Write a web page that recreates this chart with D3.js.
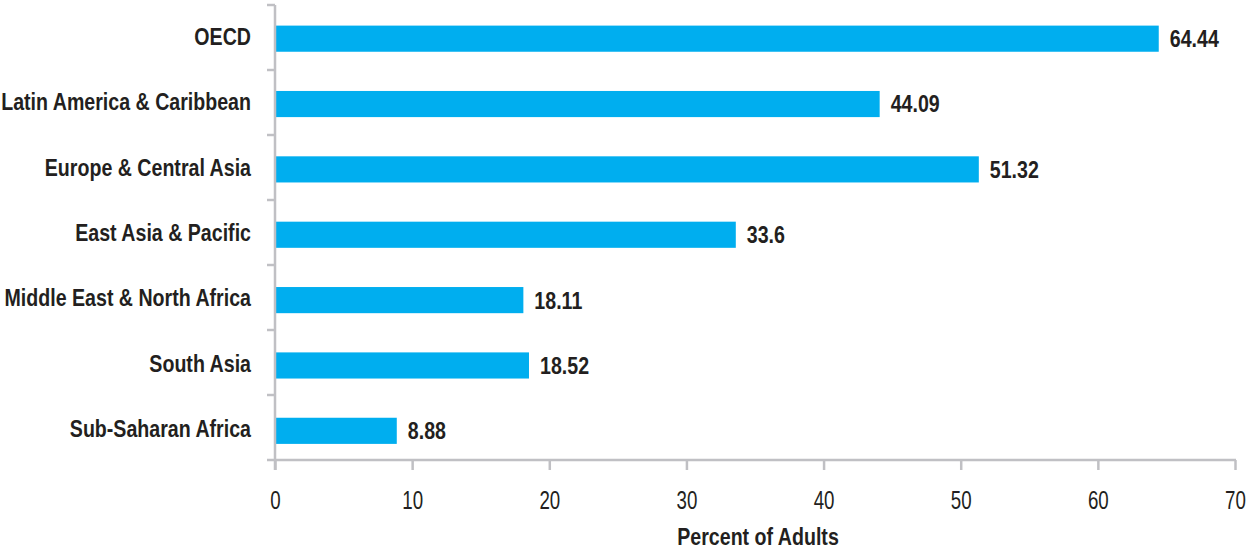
<!DOCTYPE html>
<html><head><meta charset="utf-8">
<script src="https://cdn.jsdelivr.net/npm/d3@7"></script>
<style>
body{margin:0;background:#fff;}
text{font-family:"Liberation Sans",Arial,sans-serif;}
</style></head>
<body><svg id="c" width="1254" height="551"></svg>
<script>
const categories = ["OECD","Latin America & Caribbean","Europe & Central Asia","East Asia & Pacific","Middle East & North Africa","South Asia","Sub-Saharan Africa"];
const values = [64.44,44.09,51.32,33.6,18.11,18.52,8.88];
const valueLabels = ["64.44","44.09","51.32","33.6","18.11","18.52","8.88"];
const xTicks = [0,10,20,30,40,50,60,70];
const xTitle = "Percent of Adults";

(function(){
const svg = d3.select("#c");
const mLeft = 275, mRight = 1235, mTop = 5, mBottom = 460;
const x = d3.scaleLinear().domain([0,70]).range([mLeft,mRight]);
const y = d3.scaleBand().domain(categories).range([6,463.5]).paddingInner(0.6).paddingOuter(0.3);
const axisColor = "#c0c0c4";
const ink = "#231f20";
const boldSize = 23.5, boldK = 0.835;
const tickSize = 26, tickK = 0.72;

function place(sel, fx, fy, k){
  sel.attr("transform",(d,i)=>`translate(${fx(d,i)},${fy(d,i)}) scale(${k},1)`);
}

svg.selectAll("rect.bar").data(values).enter().append("rect")
  .attr("class","bar")
  .attr("x", x(0))
  .attr("y", (d,i)=>y(categories[i]))
  .attr("width", d=>x(d)-x(0))
  .attr("height", y.bandwidth())
  .attr("fill","#00aeef");

const vals = svg.selectAll("text.val").data(values).enter().append("text")
  .attr("class","val")
  .attr("dy","0.36em")
  .attr("font-size",boldSize).attr("font-weight","bold").attr("fill",ink)
  .text((d,i)=>valueLabels[i]);
place(vals, d=>x(d)+11, (d,i)=>y(categories[i])+y.bandwidth()/2, boldK);

const step = (mBottom-mTop)/categories.length;
svg.append("line").attr("x1",mLeft).attr("x2",mLeft).attr("y1",mTop).attr("y2",mBottom+10)
  .attr("stroke",axisColor).attr("stroke-width",2.5);
const bounds = d3.range(categories.length).map(i=>mTop+i*step);
svg.selectAll("line.yt").data(bounds).enter().append("line")
  .attr("x1",mLeft-8).attr("x2",mLeft).attr("y1",d=>d).attr("y2",d=>d)
  .attr("stroke",axisColor).attr("stroke-width",2.5);

const cats = svg.selectAll("text.cat").data(categories).enter().append("text")
  .attr("class","cat")
  .attr("dy","0.27em")
  .attr("text-anchor","end")
  .attr("font-size",boldSize).attr("font-weight","bold").attr("fill",ink)
  .text(d=>d);
place(cats, ()=>251, d=>y(d)+y.bandwidth()/2, boldK);

const xAxis = d3.axisBottom(x).tickValues(xTicks).tickSize(10).tickPadding(0).tickFormat(d3.format("d"));
const gx = svg.append("g").attr("transform",`translate(0,${mBottom})`).call(xAxis);
gx.select(".domain").remove();
gx.selectAll(".tick line").attr("stroke",axisColor).attr("stroke-width",2.5);
gx.selectAll(".tick text")
  .attr("font-size",tickSize).attr("fill",ink).attr("font-family",null)
  .attr("y",0).attr("dy",0)
  .attr("transform",`translate(0,49) scale(${tickK},1)`);
svg.append("line").attr("x1",mLeft-8).attr("x2",mRight+1).attr("y1",mBottom).attr("y2",mBottom)
  .attr("stroke",axisColor).attr("stroke-width",2.5);

svg.append("text")
  .attr("text-anchor","middle")
  .attr("font-size",boldSize).attr("font-weight","bold").attr("fill",ink)
  .attr("transform",`translate(${(mLeft+mRight)/2+3},545) scale(${boldK},1)`)
  .text(xTitle);
})();
</script></body></html>
